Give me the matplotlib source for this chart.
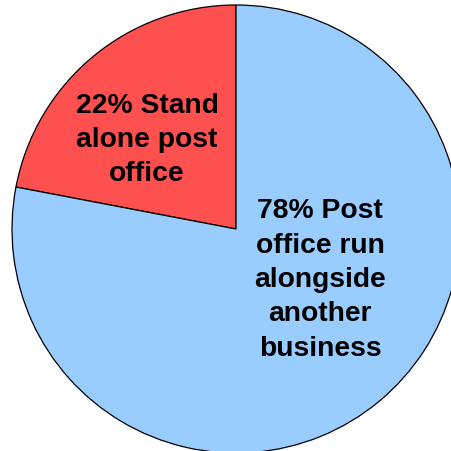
import matplotlib.pyplot as plt

shares = [22, 78]
labels = ["Stand\nalone post\noffice", "Post\noffice run\nalongside\nanother\nbusiness"]
colors = ["#FF5050", "#99CCFF"]

fig = plt.figure(figsize=(4.51, 4.52), dpi=100)
ax = fig.add_axes([0, 0, 1, 1])

# pie in pixel-ish coords so it can run off the right/bottom edge like the original
ax.pie(shares, colors=colors, startangle=90, counterclock=True,
       center=(236, 222), radius=224, frame=True,
       wedgeprops=dict(edgecolor="black", linewidth=0.9))
ax.set_xlim(0, 451)
ax.set_ylim(0, 452)
ax.set_aspect("equal")
ax.axis("off")

text_pos = [(147, 452 - 140), (320, 452 - 280)]
for v, lab, (x, y) in zip(shares, labels, text_pos):
    ax.text(x, y, f"{v}% {lab}", ha="center", va="center", fontsize=20.3,
            fontweight="bold", family="Liberation Sans", linespacing=1.42)

fig.savefig("out.png", dpi=100)
